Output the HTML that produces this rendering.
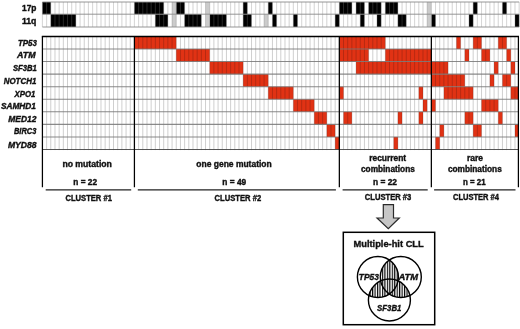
<!DOCTYPE html>
<html lang="en"><head><meta charset="utf-8"><title>Mutation clusters</title>
<style>html,body{margin:0;padding:0;background:#fff}svg{display:block}</style></head>
<body>
<svg width="520" height="329" viewBox="0 0 520 329">
<rect width="520" height="329" fill="#fff"/>
<g shape-rendering="auto">
<rect x="42.42" y="2.00" width="8.36" height="12.20" fill="#000"/>
<rect x="134.42" y="2.00" width="29.27" height="12.20" fill="#000"/>
<rect x="176.24" y="2.00" width="8.36" height="12.20" fill="#000"/>
<rect x="243.16" y="2.00" width="4.18" height="12.20" fill="#000"/>
<rect x="268.25" y="2.00" width="4.18" height="12.20" fill="#000"/>
<rect x="339.34" y="2.00" width="12.55" height="12.20" fill="#000"/>
<rect x="356.07" y="2.00" width="8.36" height="12.20" fill="#000"/>
<rect x="368.62" y="2.00" width="12.55" height="12.20" fill="#000"/>
<rect x="385.34" y="2.00" width="12.55" height="12.20" fill="#000"/>
<rect x="473.17" y="2.00" width="4.18" height="12.20" fill="#000"/>
<rect x="502.44" y="2.00" width="4.18" height="12.20" fill="#000"/>
<rect x="50.78" y="14.20" width="25.09" height="12.80" fill="#000"/>
<rect x="155.33" y="14.20" width="12.55" height="12.80" fill="#000"/>
<rect x="184.61" y="14.20" width="16.73" height="12.80" fill="#000"/>
<rect x="209.70" y="14.20" width="16.73" height="12.80" fill="#000"/>
<rect x="243.16" y="14.20" width="8.36" height="12.80" fill="#000"/>
<rect x="272.43" y="14.20" width="4.18" height="12.80" fill="#000"/>
<rect x="293.34" y="14.20" width="4.18" height="12.80" fill="#000"/>
<rect x="335.16" y="14.20" width="4.18" height="12.80" fill="#000"/>
<rect x="360.25" y="14.20" width="4.18" height="12.80" fill="#000"/>
<rect x="376.98" y="14.20" width="4.18" height="12.80" fill="#000"/>
<rect x="397.89" y="14.20" width="8.36" height="12.80" fill="#000"/>
<rect x="431.35" y="14.20" width="4.18" height="12.80" fill="#000"/>
<rect x="468.98" y="14.20" width="4.18" height="12.80" fill="#000"/>
<rect x="514.99" y="14.20" width="4.18" height="12.80" fill="#000"/>
<rect x="172.06" y="2.00" width="4.18" height="12.20" fill="#cbcbcb"/>
<rect x="205.52" y="2.00" width="4.18" height="12.20" fill="#cbcbcb"/>
<rect x="427.16" y="2.00" width="4.18" height="12.20" fill="#cbcbcb"/>
<rect x="172.06" y="14.20" width="4.18" height="12.80" fill="#cbcbcb"/>
<rect x="205.52" y="14.20" width="4.18" height="12.80" fill="#cbcbcb"/>
<rect x="264.07" y="14.20" width="4.18" height="12.80" fill="#cbcbcb"/>
<rect x="427.16" y="14.20" width="4.18" height="12.80" fill="#cbcbcb"/>
<path d="M42.42 2.0V27.0M46.60 2.0V27.0M50.78 2.0V27.0M54.97 2.0V27.0M59.15 2.0V27.0M63.33 2.0V27.0M67.51 2.0V27.0M71.69 2.0V27.0M75.88 2.0V27.0M80.06 2.0V27.0M84.24 2.0V27.0M88.42 2.0V27.0M92.60 2.0V27.0M96.79 2.0V27.0M100.97 2.0V27.0M105.15 2.0V27.0M109.33 2.0V27.0M113.51 2.0V27.0M117.70 2.0V27.0M121.88 2.0V27.0M126.06 2.0V27.0M130.24 2.0V27.0M134.42 2.0V27.0M138.61 2.0V27.0M142.79 2.0V27.0M146.97 2.0V27.0M151.15 2.0V27.0M155.33 2.0V27.0M159.52 2.0V27.0M163.70 2.0V27.0M167.88 2.0V27.0M172.06 2.0V27.0M176.24 2.0V27.0M180.43 2.0V27.0M184.61 2.0V27.0M188.79 2.0V27.0M192.97 2.0V27.0M197.15 2.0V27.0M201.34 2.0V27.0M205.52 2.0V27.0M209.70 2.0V27.0M213.88 2.0V27.0M218.06 2.0V27.0M222.25 2.0V27.0M226.43 2.0V27.0M230.61 2.0V27.0M234.79 2.0V27.0M238.97 2.0V27.0M243.16 2.0V27.0M247.34 2.0V27.0M251.52 2.0V27.0M255.70 2.0V27.0M259.88 2.0V27.0M264.07 2.0V27.0M268.25 2.0V27.0M272.43 2.0V27.0M276.61 2.0V27.0M280.79 2.0V27.0M284.98 2.0V27.0M289.16 2.0V27.0M293.34 2.0V27.0M297.52 2.0V27.0M301.70 2.0V27.0M305.89 2.0V27.0M310.07 2.0V27.0M314.25 2.0V27.0M318.43 2.0V27.0M322.61 2.0V27.0M326.80 2.0V27.0M330.98 2.0V27.0M335.16 2.0V27.0M339.34 2.0V27.0M343.52 2.0V27.0M347.71 2.0V27.0M351.89 2.0V27.0M356.07 2.0V27.0M360.25 2.0V27.0M364.43 2.0V27.0M368.62 2.0V27.0M372.80 2.0V27.0M376.98 2.0V27.0M381.16 2.0V27.0M385.34 2.0V27.0M389.53 2.0V27.0M393.71 2.0V27.0M397.89 2.0V27.0M402.07 2.0V27.0M406.25 2.0V27.0M410.44 2.0V27.0M414.62 2.0V27.0M418.80 2.0V27.0M422.98 2.0V27.0M427.16 2.0V27.0M431.35 2.0V27.0M435.53 2.0V27.0M439.71 2.0V27.0M443.89 2.0V27.0M448.07 2.0V27.0M452.26 2.0V27.0M456.44 2.0V27.0M460.62 2.0V27.0M464.80 2.0V27.0M468.98 2.0V27.0M473.17 2.0V27.0M477.35 2.0V27.0M481.53 2.0V27.0M485.71 2.0V27.0M489.89 2.0V27.0M494.08 2.0V27.0M498.26 2.0V27.0M502.44 2.0V27.0M506.62 2.0V27.0M510.80 2.0V27.0M514.99 2.0V27.0M519.17 2.0V27.0" stroke="#cacaca" stroke-width="0.9" fill="none" style="mix-blend-mode:multiply"/>
<path d="M42.42 2.0V27.0M46.60 2.0V27.0M50.78 2.0V27.0M54.97 2.0V27.0M59.15 2.0V27.0M63.33 2.0V27.0M67.51 2.0V27.0M71.69 2.0V27.0M75.88 2.0V27.0M80.06 2.0V27.0M84.24 2.0V27.0M88.42 2.0V27.0M92.60 2.0V27.0M96.79 2.0V27.0M100.97 2.0V27.0M105.15 2.0V27.0M109.33 2.0V27.0M113.51 2.0V27.0M117.70 2.0V27.0M121.88 2.0V27.0M126.06 2.0V27.0M130.24 2.0V27.0M134.42 2.0V27.0M138.61 2.0V27.0M142.79 2.0V27.0M146.97 2.0V27.0M151.15 2.0V27.0M155.33 2.0V27.0M159.52 2.0V27.0M163.70 2.0V27.0M167.88 2.0V27.0M172.06 2.0V27.0M176.24 2.0V27.0M180.43 2.0V27.0M184.61 2.0V27.0M188.79 2.0V27.0M192.97 2.0V27.0M197.15 2.0V27.0M201.34 2.0V27.0M205.52 2.0V27.0M209.70 2.0V27.0M213.88 2.0V27.0M218.06 2.0V27.0M222.25 2.0V27.0M226.43 2.0V27.0M230.61 2.0V27.0M234.79 2.0V27.0M238.97 2.0V27.0M243.16 2.0V27.0M247.34 2.0V27.0M251.52 2.0V27.0M255.70 2.0V27.0M259.88 2.0V27.0M264.07 2.0V27.0M268.25 2.0V27.0M272.43 2.0V27.0M276.61 2.0V27.0M280.79 2.0V27.0M284.98 2.0V27.0M289.16 2.0V27.0M293.34 2.0V27.0M297.52 2.0V27.0M301.70 2.0V27.0M305.89 2.0V27.0M310.07 2.0V27.0M314.25 2.0V27.0M318.43 2.0V27.0M322.61 2.0V27.0M326.80 2.0V27.0M330.98 2.0V27.0M335.16 2.0V27.0M339.34 2.0V27.0M343.52 2.0V27.0M347.71 2.0V27.0M351.89 2.0V27.0M356.07 2.0V27.0M360.25 2.0V27.0M364.43 2.0V27.0M368.62 2.0V27.0M372.80 2.0V27.0M376.98 2.0V27.0M381.16 2.0V27.0M385.34 2.0V27.0M389.53 2.0V27.0M393.71 2.0V27.0M397.89 2.0V27.0M402.07 2.0V27.0M406.25 2.0V27.0M410.44 2.0V27.0M414.62 2.0V27.0M418.80 2.0V27.0M422.98 2.0V27.0M427.16 2.0V27.0M431.35 2.0V27.0M435.53 2.0V27.0M439.71 2.0V27.0M443.89 2.0V27.0M448.07 2.0V27.0M452.26 2.0V27.0M456.44 2.0V27.0M460.62 2.0V27.0M464.80 2.0V27.0M468.98 2.0V27.0M473.17 2.0V27.0M477.35 2.0V27.0M481.53 2.0V27.0M485.71 2.0V27.0M489.89 2.0V27.0M494.08 2.0V27.0M498.26 2.0V27.0M502.44 2.0V27.0M506.62 2.0V27.0M510.80 2.0V27.0M514.99 2.0V27.0M519.17 2.0V27.0" stroke="#fff" stroke-opacity="0.2" stroke-width="0.8" fill="none"/>
<path d="M42.42 2.0H519.17M42.42 14.2H519.17M42.42 27.0H519.17" stroke="#8a8a8a" stroke-width="0.9" fill="none"/>
</g>
<rect x="134.42" y="36.45" width="41.82" height="12.56" fill="#e13214"/>
<rect x="339.34" y="36.45" width="46.00" height="12.56" fill="#e13214"/>
<rect x="456.44" y="36.45" width="4.18" height="12.56" fill="#e13214"/>
<rect x="473.17" y="36.45" width="8.36" height="12.56" fill="#e13214"/>
<rect x="498.26" y="36.45" width="8.36" height="12.56" fill="#e13214"/>
<rect x="176.24" y="49.01" width="33.46" height="12.56" fill="#e13214"/>
<rect x="339.34" y="49.01" width="29.27" height="12.56" fill="#e13214"/>
<rect x="385.34" y="49.01" width="46.00" height="12.56" fill="#e13214"/>
<rect x="464.80" y="49.01" width="4.18" height="12.56" fill="#e13214"/>
<rect x="481.53" y="49.01" width="8.36" height="12.56" fill="#e13214"/>
<rect x="506.62" y="49.01" width="4.18" height="12.56" fill="#e13214"/>
<rect x="209.70" y="61.57" width="33.46" height="12.56" fill="#e13214"/>
<rect x="356.07" y="61.57" width="75.28" height="12.56" fill="#e13214"/>
<rect x="431.35" y="61.57" width="16.73" height="12.56" fill="#e13214"/>
<rect x="494.08" y="61.57" width="4.18" height="12.56" fill="#e13214"/>
<rect x="510.80" y="61.57" width="4.18" height="12.56" fill="#e13214"/>
<rect x="243.16" y="74.13" width="25.09" height="12.56" fill="#e13214"/>
<rect x="431.35" y="74.13" width="33.46" height="12.56" fill="#e13214"/>
<rect x="489.89" y="74.13" width="4.18" height="12.56" fill="#e13214"/>
<rect x="502.44" y="74.13" width="8.36" height="12.56" fill="#e13214"/>
<rect x="268.25" y="86.69" width="25.09" height="12.56" fill="#e13214"/>
<rect x="339.34" y="86.69" width="4.18" height="12.56" fill="#e13214"/>
<rect x="418.80" y="86.69" width="4.18" height="12.56" fill="#e13214"/>
<rect x="443.89" y="86.69" width="29.27" height="12.56" fill="#e13214"/>
<rect x="510.80" y="86.69" width="7.60" height="12.56" fill="#e13214"/>
<rect x="293.34" y="99.26" width="20.91" height="12.56" fill="#e13214"/>
<rect x="422.98" y="99.26" width="4.18" height="12.56" fill="#e13214"/>
<rect x="431.35" y="99.26" width="4.18" height="12.56" fill="#e13214"/>
<rect x="481.53" y="99.26" width="16.73" height="12.56" fill="#e13214"/>
<rect x="314.25" y="111.82" width="12.55" height="12.56" fill="#e13214"/>
<rect x="343.52" y="111.82" width="8.36" height="12.56" fill="#e13214"/>
<rect x="397.89" y="111.82" width="4.18" height="12.56" fill="#e13214"/>
<rect x="418.80" y="111.82" width="4.18" height="12.56" fill="#e13214"/>
<rect x="464.80" y="111.82" width="8.36" height="12.56" fill="#e13214"/>
<rect x="498.26" y="111.82" width="4.18" height="12.56" fill="#e13214"/>
<rect x="326.80" y="124.38" width="8.36" height="12.56" fill="#e13214"/>
<rect x="439.71" y="124.38" width="4.18" height="12.56" fill="#e13214"/>
<rect x="473.17" y="124.38" width="8.36" height="12.56" fill="#e13214"/>
<rect x="514.99" y="124.38" width="3.41" height="12.56" fill="#e13214"/>
<rect x="335.16" y="136.94" width="4.18" height="12.56" fill="#e13214"/>
<rect x="393.71" y="136.94" width="4.18" height="12.56" fill="#e13214"/>
<rect x="435.53" y="136.94" width="4.18" height="12.56" fill="#e13214"/>
<path d="M46.60 36.45V150.10M50.78 36.45V150.10M54.97 36.45V150.10M59.15 36.45V150.10M63.33 36.45V150.10M67.51 36.45V150.10M71.69 36.45V150.10M75.88 36.45V150.10M80.06 36.45V150.10M84.24 36.45V150.10M88.42 36.45V150.10M92.60 36.45V150.10M96.79 36.45V150.10M100.97 36.45V150.10M105.15 36.45V150.10M109.33 36.45V150.10M113.51 36.45V150.10M117.70 36.45V150.10M121.88 36.45V150.10M126.06 36.45V150.10M130.24 36.45V150.10M134.42 36.45V150.10M138.61 36.45V150.10M142.79 36.45V150.10M146.97 36.45V150.10M151.15 36.45V150.10M155.33 36.45V150.10M159.52 36.45V150.10M163.70 36.45V150.10M167.88 36.45V150.10M172.06 36.45V150.10M176.24 36.45V150.10M180.43 36.45V150.10M184.61 36.45V150.10M188.79 36.45V150.10M192.97 36.45V150.10M197.15 36.45V150.10M201.34 36.45V150.10M205.52 36.45V150.10M209.70 36.45V150.10M213.88 36.45V150.10M218.06 36.45V150.10M222.25 36.45V150.10M226.43 36.45V150.10M230.61 36.45V150.10M234.79 36.45V150.10M238.97 36.45V150.10M243.16 36.45V150.10M247.34 36.45V150.10M251.52 36.45V150.10M255.70 36.45V150.10M259.88 36.45V150.10M264.07 36.45V150.10M268.25 36.45V150.10M272.43 36.45V150.10M276.61 36.45V150.10M280.79 36.45V150.10M284.98 36.45V150.10M289.16 36.45V150.10M293.34 36.45V150.10M297.52 36.45V150.10M301.70 36.45V150.10M305.89 36.45V150.10M310.07 36.45V150.10M314.25 36.45V150.10M318.43 36.45V150.10M322.61 36.45V150.10M326.80 36.45V150.10M330.98 36.45V150.10M335.16 36.45V150.10M339.34 36.45V150.10M343.52 36.45V150.10M347.71 36.45V150.10M351.89 36.45V150.10M356.07 36.45V150.10M360.25 36.45V150.10M364.43 36.45V150.10M368.62 36.45V150.10M372.80 36.45V150.10M376.98 36.45V150.10M381.16 36.45V150.10M385.34 36.45V150.10M389.53 36.45V150.10M393.71 36.45V150.10M397.89 36.45V150.10M402.07 36.45V150.10M406.25 36.45V150.10M410.44 36.45V150.10M414.62 36.45V150.10M418.80 36.45V150.10M422.98 36.45V150.10M427.16 36.45V150.10M431.35 36.45V150.10M435.53 36.45V150.10M439.71 36.45V150.10M443.89 36.45V150.10M448.07 36.45V150.10M452.26 36.45V150.10M456.44 36.45V150.10M460.62 36.45V150.10M464.80 36.45V150.10M468.98 36.45V150.10M473.17 36.45V150.10M477.35 36.45V150.10M481.53 36.45V150.10M485.71 36.45V150.10M489.89 36.45V150.10M494.08 36.45V150.10M498.26 36.45V150.10M502.44 36.45V150.10M506.62 36.45V150.10M510.80 36.45V150.10M514.99 36.45V150.10" stroke="#cacaca" stroke-width="0.9" fill="none" style="mix-blend-mode:multiply"/>
<path d="M42.42 49.01H518.40M42.42 61.57H518.40M42.42 74.13H518.40M42.42 86.69H518.40M42.42 99.26H518.40M42.42 111.82H518.40M42.42 124.38H518.40M42.42 136.94H518.40" stroke="#767676" stroke-opacity="0.85" stroke-width="1.1" fill="none"/>
<path d="M42.42 149.50H518.40" stroke="#444" stroke-width="0.9" fill="none"/>
<path d="M41.82 36.45H519.00" stroke="#000" stroke-width="1.5" fill="none"/>
<path d="M42.42 36.45V187.2M134.42 36.45V187.2M339.34 36.45V187.2M431.35 36.45V187.2M518.40 36.45V187.2" stroke="#000" stroke-width="1.25" fill="none"/>
<path d="M45.7 189.8H131.2" stroke="#222" stroke-width="1.3" fill="none"/>
<path d="M137.8 189.8H335.9" stroke="#222" stroke-width="1.3" fill="none"/>
<path d="M342.6 189.8H427.7" stroke="#222" stroke-width="1.3" fill="none"/>
<path d="M434.1 189.8H515.5" stroke="#222" stroke-width="1.3" fill="none"/>
<g font-family="'Liberation Sans', sans-serif" font-weight="bold" fill="#111" stroke="#111" stroke-width="0.38">
<text x="22.00" y="10.70" font-size="8.3" textLength="14.40" lengthAdjust="spacingAndGlyphs">17p</text>
<text x="22.00" y="23.70" font-size="8.3" textLength="14.40" lengthAdjust="spacingAndGlyphs">11q</text>
<text x="17.90" y="45.80" font-size="8.7" font-style="italic" textLength="18.90" lengthAdjust="spacingAndGlyphs">TP53</text>
<text x="17.10" y="58.40" font-size="8.7" font-style="italic" textLength="18.50" lengthAdjust="spacingAndGlyphs">ATM</text>
<text x="12.90" y="71.10" font-size="8.7" font-style="italic" textLength="23.90" lengthAdjust="spacingAndGlyphs">SF3B1</text>
<text x="3.70" y="83.75" font-size="8.7" font-style="italic" textLength="32.70" lengthAdjust="spacingAndGlyphs">NOTCH1</text>
<text x="14.50" y="96.50" font-size="8.7" font-style="italic" textLength="20.80" lengthAdjust="spacingAndGlyphs">XPO1</text>
<text x="0.90" y="109.00" font-size="8.7" font-style="italic" textLength="35.10" lengthAdjust="spacingAndGlyphs">SAMHD1</text>
<text x="8.30" y="121.70" font-size="8.7" font-style="italic" textLength="28.10" lengthAdjust="spacingAndGlyphs">MED12</text>
<text x="13.90" y="134.40" font-size="8.7" font-style="italic" textLength="22.50" lengthAdjust="spacingAndGlyphs">BIRC3</text>
<text x="7.90" y="147.50" font-size="8.7" font-style="italic" textLength="28.70" lengthAdjust="spacingAndGlyphs">MYD88</text>
<text x="62.40" y="166.80" font-size="8.5" textLength="49.50" lengthAdjust="spacingAndGlyphs">no mutation</text>
<text x="73.30" y="184.60" font-size="8.5" textLength="23.70" lengthAdjust="spacingAndGlyphs">n = 22</text>
<text x="65.50" y="200.50" font-size="8.5" textLength="46.40" lengthAdjust="spacingAndGlyphs">CLUSTER #1</text>
<text x="196.30" y="166.50" font-size="8.5" textLength="75.40" lengthAdjust="spacingAndGlyphs">one gene mutation</text>
<text x="222.30" y="184.60" font-size="8.5" textLength="23.90" lengthAdjust="spacingAndGlyphs">n = 49</text>
<text x="214.60" y="200.50" font-size="8.5" textLength="46.60" lengthAdjust="spacingAndGlyphs">CLUSTER #2</text>
<text x="369.20" y="160.50" font-size="8.5" textLength="37.00" lengthAdjust="spacingAndGlyphs">recurrent</text>
<text x="361.00" y="171.50" font-size="8.5" textLength="53.80" lengthAdjust="spacingAndGlyphs">combinations</text>
<text x="373.00" y="184.60" font-size="8.5" textLength="24.00" lengthAdjust="spacingAndGlyphs">n = 22</text>
<text x="364.80" y="200.40" font-size="8.5" textLength="46.50" lengthAdjust="spacingAndGlyphs">CLUSTER #3</text>
<text x="467.00" y="160.50" font-size="8.5" textLength="16.10" lengthAdjust="spacingAndGlyphs">rare</text>
<text x="447.90" y="171.50" font-size="8.5" textLength="53.90" lengthAdjust="spacingAndGlyphs">combinations</text>
<text x="463.00" y="184.60" font-size="8.5" textLength="22.70" lengthAdjust="spacingAndGlyphs">n = 21</text>
<text x="453.00" y="200.40" font-size="8.5" textLength="46.00" lengthAdjust="spacingAndGlyphs">CLUSTER #4</text>
</g>
<path d="M383.3 204.7H393.5V218H399.3L388.3 228.7L377 218H383.3Z" fill="#c6c6c6" stroke="#2a2a2a" stroke-width="1.2" stroke-linejoin="miter"/>
<rect x="343.3" y="232.3" width="91.4" height="92.4" fill="#fff" stroke="#000" stroke-width="1.5"/>
<g font-family="'Liberation Sans', sans-serif" font-weight="bold" fill="#111" stroke="#111" stroke-width="0.38">
<text x="353.50" y="247.30" font-size="9.7" textLength="70.20" lengthAdjust="spacingAndGlyphs">Multiple-hit CLL</text>
</g>
<defs>
<pattern id="h" width="2.46" height="10" patternUnits="userSpaceOnUse" x="381.9" y="250"><rect x="0" y="0" width="1.15" height="10" fill="#000"/></pattern>
<clipPath id="ca"><circle cx="377.9" cy="277.0" r="20.5"/></clipPath>
<clipPath id="cb"><circle cx="400.8" cy="277.0" r="20.5"/></clipPath>
<mask id="m" maskUnits="userSpaceOnUse" x="340" y="250" width="100" height="79">
<g clip-path="url(#ca)"><circle cx="400.8" cy="277.0" r="20.5" fill="#fff"/><circle cx="389.4" cy="300.0" r="21.0" fill="#fff"/></g>
<g clip-path="url(#cb)"><circle cx="389.4" cy="300.0" r="21.0" fill="#fff"/></g>
</mask>
</defs>
<rect x="340" y="250" width="100" height="79" fill="url(#h)" mask="url(#m)"/>
<circle cx="377.9" cy="277.0" r="20.5" fill="none" stroke="#000" stroke-width="1.4"/>
<circle cx="400.8" cy="277.0" r="20.5" fill="none" stroke="#000" stroke-width="1.4"/>
<circle cx="389.4" cy="300.0" r="21.0" fill="none" stroke="#000" stroke-width="1.4"/>
<g font-family="'Liberation Sans', sans-serif" font-weight="bold" font-style="italic" fill="#111" stroke="#111" stroke-width="0.38">
<text x="358.80" y="279.70" font-size="9.3" textLength="20.20" lengthAdjust="spacingAndGlyphs">TP53</text>
<text x="398.40" y="279.70" font-size="9.3" textLength="19.70" lengthAdjust="spacingAndGlyphs">ATM</text>
<text x="377.10" y="310.90" font-size="9.0" textLength="24.30" lengthAdjust="spacingAndGlyphs">SF3B1</text>
</g>
</svg>
</body></html>
